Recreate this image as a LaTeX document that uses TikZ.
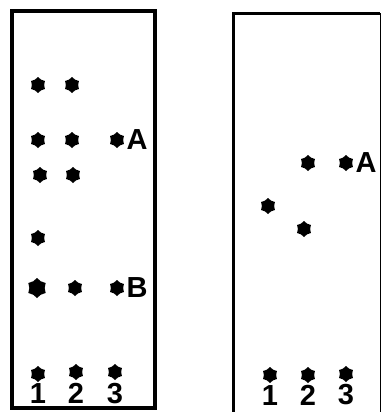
\documentclass[tikz,border=0pt]{standalone}
\usepackage{fontspec}
\setsansfont{Liberation Sans}
\usetikzlibrary{positioning,shapes.geometric}

\begin{document}
\begin{tikzpicture}[
  x=1pt, y=-1pt,
  plate/.style={draw=black, line width=3.5pt},
  spot/.style={star, star points=6, star point ratio=1.3, fill=black, inner sep=0pt, minimum size=16pt},
  bigspot/.style={spot, minimum size=20pt},
  lbl/.style={font=\sffamily\bfseries\fontsize{29}{29}\selectfont, inner sep=0pt}
]
\useasboundingbox (0,0) rectangle (382,412);
\clip (0,0) rectangle (382,412);
% left plate
\draw[plate] (12,11) rectangle (155,408);
\node[spot] (l11) at (38,85) {};
\node[spot] (l12) at (72,85) {};
\node[spot] (l21) at (38,140) {};
\node[spot] (l22) at (72,140) {};
\node[spot] (l23) at (117,140) {};
\node[lbl, right=3pt of l23] (la) {A};
\node[spot] (l31) at (40,175) {};
\node[spot] (l32) at (73,175) {};
\node[spot] (l41) at (38,238) {};
\node[bigspot] (l51) at (37,288) {};
\node[spot] (l52) at (75,288) {};
\node[spot] (l53) at (117,288) {};
\node[lbl, right=3pt of l53] (lb) {B};
\node[spot] (l61) at (38,374) {};
\node[spot] (l62) at (76,372) {};
\node[spot] (l63) at (115,372) {};
\node[lbl, below=1pt of l61] (ln1) {1};
\node[lbl, below=3pt of l62] (ln2) {2};
\node[lbl, below=3pt of l63] (ln3) {3};
% right plate
\draw[plate] (233.5,420) -- (233.5,13.5) -- (380,13.5);
\draw[line width=1pt] (380,13.5) -- (380,420);
\node[spot] (r11) at (308,163) {};
\node[spot] (r12) at (346,163) {};
\node[lbl, right=3pt of r12] (ra) {A};
\node[spot] (r21) at (268,206) {};
\node[spot] (r31) at (304,229) {};
\node[spot] (r41) at (270,375) {};
\node[spot] (r42) at (308,375) {};
\node[spot] (r43) at (346,374) {};
\node[lbl, below=2pt of r41] (rn1) {1};
\node[lbl, below=2pt of r42] (rn2) {2};
\node[lbl, below=2pt of r43] (rn3) {3};
\end{tikzpicture}
\end{document}
